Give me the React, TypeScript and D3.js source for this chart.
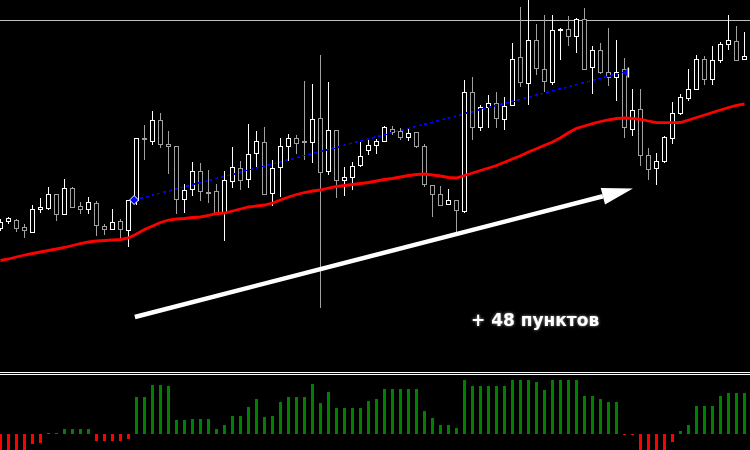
import React from "react";
import * as d3 from "d3";

// Candle data (price points), one per bar
const OPEN = [222,229,230,223,218.3,240.7,242.3,256,235.7,262,244,241,247,224,221,229,220.3,250,311.7,309.3,329.7,305.7,303.7,251.3,260.7,278.7,258.3,259.3,238.3,269.3,282,270.7,297.3,307.7,256.7,282.7,303.7,311.7,308.7,307.7,331.7,279.3,319.7,269.7,272.7,284.7,299.7,304.7,308.7,320.7,318.7,312.7,317.7,303.7,264.7,255.7,245.7,249.7,239.3,357.7,322.7,342.7,346.7,330.7,344.7,392.7,366.7,409.7,380.7,367.7,419.7,420.7,413.7,430.7,382.7,399.7,377.7,372.7,380.7,320.7,340.7,294.7,281.7,288.7,311.7,336.7,351.7,360.7,390.7,370.7,389.7,405.7,408.7,390.7];
const HIGH = [231,233.5,231,226,245,252,263,256,271,263,248,253,249,226,241,231,250,312,325,339,337,319,303.7,266.3,288,287,280,266.3,278.7,303,289,326,319,323,289.7,311.7,315.7,314.7,369,366,395,368,319.7,282.7,287.7,307.7,311.7,310.7,324,324,321.7,321.7,317.7,305.7,264.7,263.7,260.7,249.7,369.7,372.7,344.7,354.7,357.7,352.7,406.7,442.7,453,425.7,434.7,434.7,421.7,433.7,431.7,441.7,403.7,406.7,421.7,409.7,391.7,360.7,360.7,301.7,296.7,314,347.7,355.7,380.7,394.7,393.7,403.7,407.7,434.7,423.7,417.7];
const LOW = [220,227,219,213,218,238,241,230,235.7,243,237,237,215,216,221,211,204,246,291,306.3,303.3,277.3,237.3,238,255.3,250.3,248.3,237.3,210.3,263.3,261.3,263.3,282,255.7,245,254.3,289.7,296.7,291.3,287.7,143,276.3,253.3,255.3,261.3,283.7,295.7,296.7,308.7,315.7,310.7,309.7,302.7,263.7,234.3,244.7,245.7,218.3,238.3,310.7,319.7,322.7,322.7,320.7,344.7,363.7,345.7,375.7,358.7,365.7,390.7,404.7,398.3,380.7,356.7,376.7,364.7,349.7,312.7,314.7,284.7,271.3,265.7,288,306.7,335.7,349.7,360.7,365.7,365.7,387.7,400.7,389.7,390.7];
const CLOSE = [228,232,222.3,219.7,241,243,256,236,262,243.3,241.3,248,225,221,228.3,221,250,311.7,310.7,330,306.3,303.7,251.3,259.7,278.7,259.3,257.3,237.3,269.7,283,270,295.7,308.7,255.7,281.7,303.7,311.7,306.7,307.7,331,278.3,319.7,269.7,272.7,283.7,293.7,304.7,308.7,323,317.7,312.7,316.7,303.7,265.7,255.7,244.7,249.7,239.7,357.7,322.7,342.7,346.7,331.7,343.7,390.7,367.7,409.7,381.7,368.7,419.7,420.7,413.7,430.7,380.7,399.7,377.7,372.7,377.7,322.7,339.7,294.7,280.7,288.7,312.7,336.7,352.7,360.7,390.7,370.7,389.7,405.7,409.7,389.7,393.7];

// Moving average (red)
const MA = [189.5,191,193,195,196.5,198,199.5,201,202.5,204.5,206.5,208,209,209.5,210,210.5,212,216,220.5,224,227.5,230,231,231.5,232.5,233,234.5,236.5,237,239,241,243,244,245,247,250,253,255.5,257.5,259,260,262,263.5,264.5,265.5,266.5,267.5,269,270.5,271.5,273,274.5,275.5,276,275,274,272.5,272,274.5,277,279.5,282,284.5,287.7,291,294.3,298,301.3,304.7,308,312.2,317.2,321.7,324,326.3,328.5,330.2,331.5,332,331.5,330.7,329,327.3,327.3,327.3,327.5,330,332.5,335,337.5,340,342.5,344.7,346];

// Histogram indicator
const HIST = [-20,-20,-20,-20,-10,-9,1,1,5,5,5,5,-7,-7,-7,-7,-5,37,37,49,49,48,14,14,15,15,15,5,9,18,18,27,35,17,18,32,37,37,37,50,31,42,26,26,26,26,33,35,45,45,45,45,45,23,16,9,9,6,54,48,48,48,48,48,54,54,54,52,44,54,54,54,54,38,38,35,32,32,-1,-1,-20,-20,-20,-20,-8,3,9,28,28,28,38,41,41,41];

// Annotations
const LEVEL = 430.5; // horizontal price level (gray)
const TREND_START = { i: 16.7, p: 250 };
const TREND_END = { i: 77.8, p: 377.5 };
const ARROW_FROM = { i: 16.8, p: 133 };
const ARROW_TO = { i: 79.05, p: 261.5 };
const LABEL = "+ 48 пунктов";

export default function App() {
  const W = 750, H = 450;
  const x = d3.scaleLinear().domain([0, 93]).range([0.5, 744.5]);
  const y = d3.scaleLinear().domain([0, 450]).range([450, 0]);
  const yh = d3.scaleLinear().domain([0, 54]).range([434, 380]);

  const maLine = d3.line<number>().x((_, i) => x(i)).y((d) => y(d)).curve(d3.curveLinear)(MA) || "";

  // arrow geometry
  const ax1 = x(ARROW_FROM.i), ay1 = y(ARROW_FROM.p);
  const ax2 = x(ARROW_TO.i), ay2 = y(ARROW_TO.p);
  const ang = Math.atan2(ay2 - ay1, ax2 - ax1);
  const headLen = 31, headW = 8.5;
  const bx = ax2 - headLen * Math.cos(ang), by = ay2 - headLen * Math.sin(ang);
  const px = -Math.sin(ang), py = Math.cos(ang);
  const head = `M${ax2},${ay2} L${bx + px * headW},${by + py * headW} L${bx - px * headW},${by - py * headW} Z`;

  const tsx = x(TREND_START.i), tsy = y(TREND_START.p);
  const tex = x(TREND_END.i), tey = y(TREND_END.p);

  return (
    <svg width={W} height={H} style={{ position: "fixed", left: 0, top: 0, background: "#000" }}>
      <defs>
        <filter id="glow" x="-20%" y="-60%" width="140%" height="220%">
          <feGaussianBlur in="SourceAlpha" stdDeviation="1.6" result="b" />
          <feFlood floodColor="#9a9a9a" result="f" />
          <feComposite in="f" in2="b" operator="in" result="g" />
          <feMerge>
            <feMergeNode in="g" />
            <feMergeNode in="SourceGraphic" />
          </feMerge>
        </filter>
      </defs>
      <rect x={0} y={0} width={W} height={H} fill="#000" />
      {/* level line */}
      <line x1={0} x2={W} y1={Math.round(y(LEVEL)) + 0.5} y2={Math.round(y(LEVEL)) + 0.5} stroke="#c0c0c0" strokeWidth={1} />

      {/* candles */}
      <g shapeRendering="crispEdges">
        {OPEN.map((o, i) => {
          const c = CLOSE[i];
          const up = c >= o;
          const col = up ? "#ffffff" : "#a0a0a0";
          const cx = x(i);
          const yt = Math.round(y(Math.max(o, c)));
          const yb = Math.round(y(Math.min(o, c)));
          const yhg = Math.round(y(HIGH[i]));
          const ylw = Math.round(y(LOW[i]));
          return (
            <g key={i}>
              <line x1={cx} x2={cx} y1={yhg} y2={ylw + 1} stroke={col} strokeWidth={1} />
              <rect x={cx - 2} y={yt + 0.5} width={4} height={Math.max(1, yb - yt)} fill="#000" stroke={col} strokeWidth={1} />
            </g>
          );
        })}
      </g>

      {/* moving average */}
      <path d={maLine} fill="none" stroke="#ff0000" strokeWidth={2.8} />

      {/* trend line */}
      <line x1={tsx} y1={tsy} x2={tex} y2={tey} stroke="#0000ff" strokeWidth={1.6} strokeDasharray="3,3" shapeRendering="crispEdges" />
      <path d={`M${tsx - 4.5},${tsy} L${tsx},${tsy - 4.5} L${tsx + 4.5},${tsy} L${tsx},${tsy + 4.5} Z`} fill="#0000ff" stroke="#ffffff" strokeWidth={1} />
      <path d={`M${tex},${tey} L${tex + 5},${tey - 4.5} L${tex + 5},${tey + 4.5} Z`} fill="#0000ff" />
      <line x1={tex + 5.5} x2={tex + 5.5} y1={tey - 5} y2={tey + 5} stroke="#ffffff" strokeWidth={1.5} />

      {/* arrow */}
      <line x1={ax1} y1={ay1} x2={bx} y2={by} stroke="#ffffff" strokeWidth={4.5} />
      <path d={head} fill="#ffffff" />

      {/* label */}
      <text x={471} y={326} fill="#ffffff" fontFamily="'DejaVu Sans', Verdana, sans-serif" fontWeight="bold" fontSize={17} filter="url(#glow)">
        {LABEL}
      </text>

      {/* separator */}
      <line x1={0} x2={W} y1={372.5} y2={372.5} stroke="#ffffff" strokeWidth={1} />
      <line x1={0} x2={W} y1={374.5} y2={374.5} stroke="#ffffff" strokeWidth={1} />

      {/* histogram */}
      <g shapeRendering="crispEdges">
        {HIST.map((v, i) => {
          const y0 = yh(0);
          const yv = yh(v);
          return (
            <rect key={i} x={x(i) - 1.5} y={Math.min(y0, yv)} width={3} height={Math.abs(yv - y0)} fill={v >= 0 ? "#008000" : "#ff0000"} />
          );
        })}
      </g>
    </svg>
  );
}
